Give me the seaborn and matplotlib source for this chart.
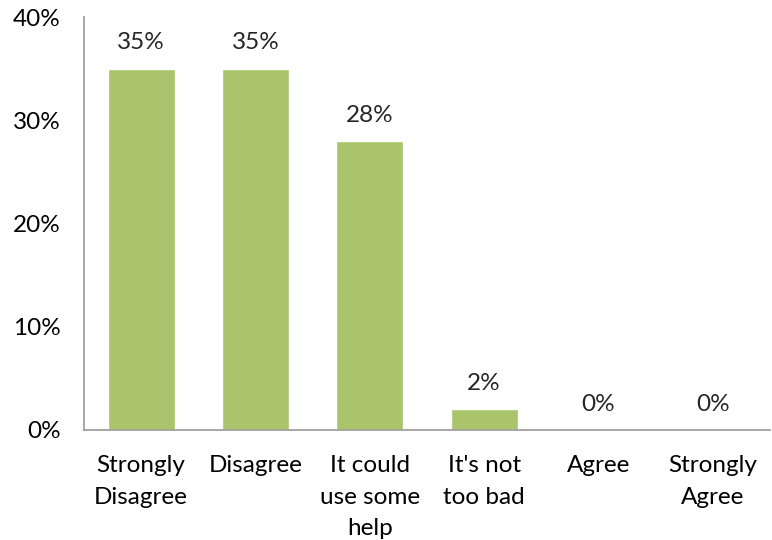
import matplotlib
matplotlib.use("Agg")
import matplotlib.pyplot as plt
import seaborn as sns
import pandas as pd

categories = ["Strongly\nDisagree", "Disagree", "It could\nuse some\nhelp", "It's not\ntoo bad", "Agree", "Strongly\nAgree"]
values = [35, 35, 28, 2, 0, 0]
labels = ["35%", "35%", "28%", "2%", "0%", "0%"]
yticks = [0, 10, 20, 30, 40]
yticklabels = ["0%", "10%", "20%", "30%", "40%"]

sns.set_style("white")
plt.rcParams['font.family'] = ['Lato', 'DejaVu Sans']

df = pd.DataFrame({"cat": categories, "val": values})
fig = plt.figure(figsize=(7.72, 5.40), dpi=100)
ax = fig.add_axes([84/772, 110/540, (770-84)/772, (430-17)/540])
sns.barplot(data=df, x="cat", y="val", color="#A9C46B", width=0.585, ax=ax, saturation=1)
ax.set_ylim(0, 40)
ax.set_xlim(-0.5, 5.5)
ax.set_yticks(yticks)
ax.set_yticklabels(yticklabels)
ax.set_xlabel("")
ax.set_ylabel("")
for s in ["top", "right"]:
    ax.spines[s].set_visible(False)
for s in ["left", "bottom"]:
    ax.spines[s].set_color("#A0A0A0")
    ax.spines[s].set_linewidth(1.3)
fs = 17.5
ax.tick_params(axis="both", length=0, labelsize=fs, colors="black")
ax.tick_params(axis="y", pad=17)
ax.tick_params(axis="x", pad=18)
for i, (v, t) in enumerate(zip(values, labels)):
    ax.annotate(t, (i, v), xytext=(0, 11), textcoords="offset points", ha="center", va="bottom", fontsize=fs)
for lbl in ax.get_xticklabels():
    lbl.set_linespacing(1.62)
fig.savefig("out.png", dpi=100)
